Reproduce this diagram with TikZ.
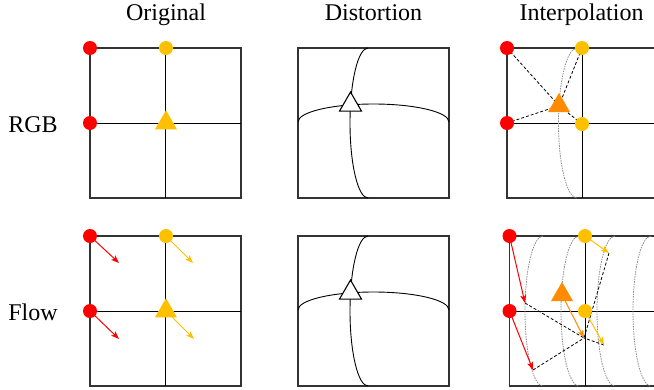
\documentclass[tikz,border=0pt]{standalone}
\usepackage{fontspec}
\setmainfont{Liberation Serif}
\usetikzlibrary{shapes.geometric,arrows.meta}
\definecolor{dotred}{HTML}{FF0000}
\definecolor{dotyellow}{HTML}{FFC000}
\definecolor{triorange}{HTML}{FF8C00}
\tikzset{
  frame/.style={line width=1.1pt,black!80},
  gridline/.style={line width=0.8pt},
  bent/.style={line width=0.9pt},
  rdot/.style={circle,fill=dotred,inner sep=0pt,minimum size=14pt},
  ydot/.style={circle,fill=dotyellow,inner sep=0pt,minimum size=14pt},
  tri/.style={regular polygon,regular polygon sides=3,inner sep=0pt,minimum size=25.5pt},
  flowarrow/.style={line width=1pt,-{Stealth[length=8pt,width=6pt,inset=2pt]}},
  interp/.style={line width=0.8pt,dash pattern=on 3pt off 2pt},
  warped/.style={black!45,line width=0.8pt,dash pattern=on 1.5pt off 1pt},
  heading/.style={font=\fontsize{24}{28}\selectfont,anchor=base}
}

\begin{document}
\begin{tikzpicture}[x=1pt,y=-1pt]
\clip (0,0) rectangle (654,389);

\node[heading] (tOrig) at (166,20) {Original};
\node[heading] (tDist) at (373.5,20) {Distortion};
\node[heading] (tInt) at (581.5,20) {Interpolation};
\node[heading] (tRGB) at (33,132) {RGB};
\node[heading] (tFlow) at (33,320) {Flow};

\foreach \x/\y in {90/48,90/236,507/48,509.5/236} {
  \draw[frame] (\x,\y) rectangle ++(151,150);
  \draw[gridline] (\x+75.5,\y) -- ++(0,150) (\x,\y+75) -- ++(151,0);
}

\foreach \y in {48,236} {
  \draw[frame] (298,\y) rectangle ++(151,150);
  \draw[bent] (368,\y) arc[start angle=-90,end angle=-270,x radius=18,y radius=75];
  \draw[bent] (298,\y+74) arc[start angle=-180,end angle=0,x radius=75.5,y radius=18];
  \node[tri,draw,fill=white,line width=1.1pt] (dT\y) at (350.5,\y+56.8) {};
}

\node[rdot] (oR1) at (90,48) {};
\node[rdot] (oR2) at (90,123) {};
\node[ydot] (oY1) at (166,48) {};
\node[tri,fill=dotyellow] (oT) at (166,123) {};

\coordinate (fR1) at (90,236);
\coordinate (fR2) at (90,311);
\coordinate (fY1) at (166,236);
\coordinate (fT) at (166,311);
\coordinate (fR1e) at (119,263);
\coordinate (fR2e) at (119,339);
\coordinate (fY1e) at (193,263);
\coordinate (fTe) at (194,339);
\draw[flowarrow,dotred] (fR1) -- (fR1e);
\draw[flowarrow,dotred] (fR2) -- (fR2e);
\draw[flowarrow,dotyellow] (fY1) -- (fY1e);
\draw[flowarrow,dotyellow] (fT) -- (fTe);
\node[rdot] at (fR1) {};
\node[rdot] at (fR2) {};
\node[ydot] at (fY1) {};
\node[tri,fill=dotyellow] at (fT) {};

\draw[warped] (577,48) arc[start angle=-90,end angle=-270,x radius=18.5,y radius=75];
\coordinate (iR1) at (507,48);
\coordinate (iR2) at (507,123);
\coordinate (iY1) at (582,48);
\coordinate (iY2) at (582,124);
\coordinate (iT) at (559,105.7);
\foreach \p in {iR1,iR2,iY1,iY2}
  \draw[interp] (\p) -- (iT);
\node[rdot] at (iR1) {};
\node[rdot] at (iR2) {};
\node[ydot] at (iY1) {};
\node[ydot] at (iY2) {};
\node[tri,fill=triorange] at (iT) {};

\foreach \x in {543,579,615,651}
  \draw[warped] (\x,236) arc[start angle=-90,end angle=-270,x radius=18,y radius=75];
\coordinate (jR1) at (509.5,236);
\coordinate (jR2) at (509.5,311);
\coordinate (jY1) at (585,236);
\coordinate (jY2) at (585,311);
\coordinate (jT) at (562,294.7);
\coordinate (jR1e) at (525,303);
\coordinate (jR2e) at (533,370);
\coordinate (jY1e) at (609,253);
\coordinate (jY2e) at (604,345);
\coordinate (jTe) at (584,338);
\foreach \p in {jR1e,jR2e,jY1e,jY2e}
  \draw[interp] (\p) -- (jTe);
\draw[flowarrow,dotred] (jR1) -- (jR1e);
\draw[flowarrow,dotred] (jR2) -- (jR2e);
\draw[flowarrow,dotyellow] (jY1) -- (jY1e);
\draw[flowarrow,dotyellow] (jY2) -- (jY2e);
\draw[flowarrow,triorange] (jT) -- (jTe);
\node[rdot] at (jR1) {};
\node[rdot] at (jR2) {};
\node[ydot] at (jY1) {};
\node[ydot] at (jY2) {};
\node[tri,fill=triorange] at (jT) {};
\end{tikzpicture}
\end{document}
